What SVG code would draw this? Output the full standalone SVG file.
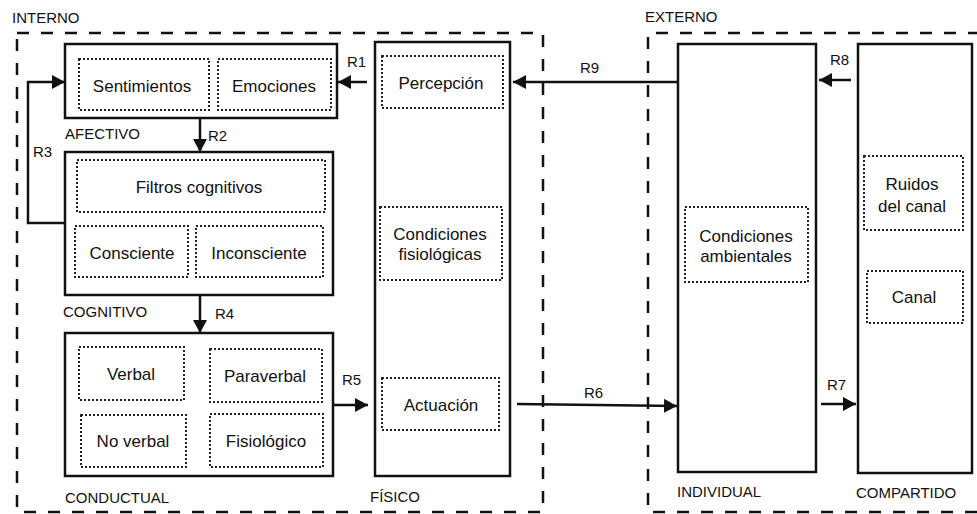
<svg xmlns="http://www.w3.org/2000/svg" width="977" height="514" viewBox="0 0 977 514">
<style>
.bg{fill:#fff}
.zone{fill:none;stroke:#111;stroke-width:2.5;stroke-dasharray:12 12}
.box{fill:#fff;stroke:#111;stroke-width:2.5}
.sub{fill:none;stroke:#222;stroke-width:2;stroke-dasharray:2 2}
.t{font-family:"Liberation Sans",Arial,sans-serif;font-size:17px;fill:#111;text-anchor:middle}
.lbl{font-family:"Liberation Sans",Arial,sans-serif;font-size:15px;fill:#111}
.con{fill:none;stroke:#111;stroke-width:2.5}
</style>
<defs>
<marker id="ah" markerUnits="userSpaceOnUse" markerWidth="14" markerHeight="14" refX="13" refY="7" orient="auto">
<path d="M0,0 L13,7 L0,14 Z" fill="#111"/>
</marker>
</defs>
<rect class="bg" x="0" y="0" width="977" height="514"/>
<g id="internal-zone">
<rect class="zone" x="17" y="33" width="526" height="479"/>
<text class="lbl" x="12" y="23">INTERNO</text>
</g>
<g id="external-zone">
<path class="zone" d="M980,33 H648 V512 H980"/>
<text class="lbl" x="645" y="22">EXTERNO</text>
</g>
<g id="afectivo">
<rect class="box" x="65" y="44" width="272" height="74"/>
<rect class="sub" x="79" y="59" width="130" height="51"/>
<rect class="sub" x="218" y="59" width="113" height="51"/>
<text class="t" x="142" y="92">Sentimientos</text>
<text class="t" x="274" y="92">Emociones</text>
<text class="lbl" x="65" y="139">AFECTIVO</text>
</g>
<g id="cognitivo">
<rect class="box" x="65" y="152" width="268" height="143"/>
<rect class="sub" x="77" y="160" width="248" height="52"/>
<rect class="sub" x="75" y="226" width="113" height="51"/>
<rect class="sub" x="196" y="226" width="127" height="51"/>
<text class="t" x="199" y="193">Filtros cognitivos</text>
<text class="t" x="132" y="259">Consciente</text>
<text class="t" x="259" y="259">Inconsciente</text>
<text class="lbl" x="63" y="317">COGNITIVO</text>
</g>
<g id="conductual">
<rect class="box" x="65" y="333" width="268" height="143"/>
<rect class="sub" x="79" y="347" width="105" height="53"/>
<rect class="sub" x="210" y="349" width="112" height="53"/>
<rect class="sub" x="81" y="415" width="105" height="52"/>
<rect class="sub" x="210" y="414" width="113" height="53"/>
<text class="t" x="131" y="380">Verbal</text>
<text class="t" x="265" y="382">Paraverbal</text>
<text class="t" x="133" y="447">No verbal</text>
<text class="t" x="266" y="447">Fisiológico</text>
<text class="lbl" x="65" y="503">CONDUCTUAL</text>
</g>
<g id="fisico">
<rect class="box" x="375" y="42" width="135" height="434"/>
<rect class="sub" x="382" y="56" width="121" height="52"/>
<rect class="sub" x="380" y="207" width="122" height="73"/>
<rect class="sub" x="382" y="378" width="117" height="52"/>
<text class="t" x="441" y="89">Percepción</text>
<text class="t" x="440" y="240">Condiciones</text>
<text class="t" x="440" y="260">fisiológicas</text>
<text class="t" x="441" y="411">Actuación</text>
<text class="lbl" x="370" y="502">FÍSICO</text>
</g>
<g id="individual">
<rect class="box" x="678" y="44" width="138" height="428"/>
<rect class="sub" x="685" y="207" width="123" height="75"/>
<text class="t" x="746" y="242">Condiciones</text>
<text class="t" x="746" y="262">ambientales</text>
<text class="lbl" x="677" y="497">INDIVIDUAL</text>
</g>
<g id="compartido">
<rect class="box" x="858" y="44" width="114" height="429"/>
<rect class="sub" x="864" y="156" width="99" height="74"/>
<rect class="sub" x="867" y="271" width="96" height="52"/>
<text class="t" x="912" y="190">Ruidos</text>
<text class="t" x="912" y="212">del canal</text>
<text class="t" x="914" y="303">Canal</text>
<text class="lbl" x="856" y="498">COMPARTIDO</text>
</g>
<g id="connectors">
<path class="con" d="M200,118 V152" marker-end="url(#ah)"/>
<path class="con" d="M65,223 H28 V82 H65" marker-end="url(#ah)"/>
<path class="con" d="M200,295 V333" marker-end="url(#ah)"/>
<path class="con" d="M367,82 H338" marker-end="url(#ah)"/>
<path class="con" d="M677,82 H513" marker-end="url(#ah)"/>
<path class="con" d="M333,405 H368" marker-end="url(#ah)"/>
<path class="con" d="M517,404 L677,406" marker-end="url(#ah)"/>
<path class="con" d="M851,80 H819" marker-end="url(#ah)"/>
<path class="con" d="M821,404 H856" marker-end="url(#ah)"/>
<text class="lbl" x="208" y="141">R2</text>
<text class="lbl" x="33" y="157">R3</text>
<text class="lbl" x="215" y="319">R4</text>
<text class="lbl" x="347" y="67">R1</text>
<text class="lbl" x="580" y="73">R9</text>
<text class="lbl" x="342" y="385">R5</text>
<text class="lbl" x="584" y="398">R6</text>
<text class="lbl" x="830" y="65">R8</text>
<text class="lbl" x="827" y="390">R7</text>
</g>
</svg>
